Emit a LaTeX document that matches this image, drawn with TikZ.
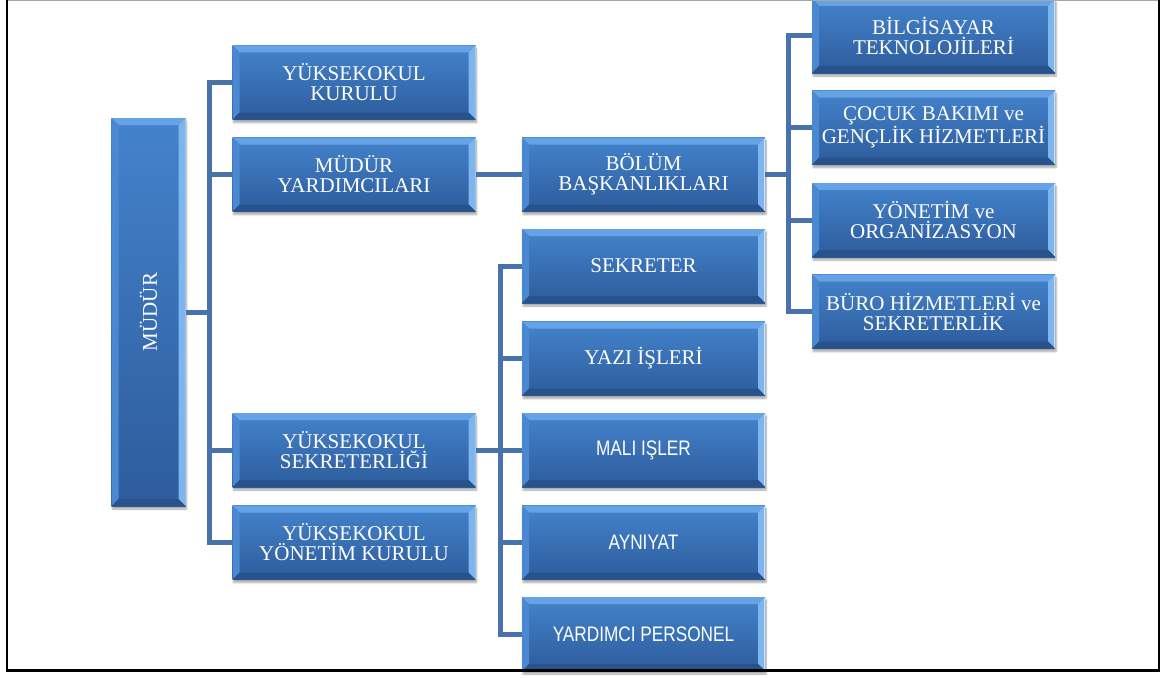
\documentclass[tikz,border=0pt]{standalone}
\usepackage{fontspec}
\setmainfont{Liberation Serif}
\newfontfamily\narrowsans[FakeStretch=0.82]{Liberation Sans}
\usetikzlibrary{shadows.blur}
\definecolor{boxtop}{HTML}{4483CC}
\definecolor{boxbot}{HTML}{2D5C9C}
\definecolor{bevtop}{HTML}{65A2E6}
\definecolor{bevleft}{HTML}{4A88D1}
\definecolor{bevright}{HTML}{7DB6EE}
\definecolor{bevbot}{HTML}{28528C}
\definecolor{conn}{HTML}{4873AA}
\tikzset{
  x=1pt, y=-1pt,
  orgbox/.style={rectangle, inner sep=0pt, minimum width=243pt, minimum height=74pt,
    text=white, align=center, font=\fontsize{21}{20}\selectfont, fill=boxtop,
    blur shadow={shadow xshift=1pt, shadow yshift=-3pt, shadow blur steps=6, shadow opacity=35},
    path picture={
      \shade[top color=boxtop, bottom color=boxbot]
        (path picture bounding box.south west) rectangle (path picture bounding box.north east);
      \fill[bevtop] (path picture bounding box.north west) -- (path picture bounding box.north east)
        -- ([shift={(-7pt,-7pt)}]path picture bounding box.north east)
        -- ([shift={(7pt,-7pt)}]path picture bounding box.north west) -- cycle;
      \fill[bevleft] (path picture bounding box.north west) -- (path picture bounding box.south west)
        -- ([shift={(7pt,7pt)}]path picture bounding box.south west)
        -- ([shift={(7pt,-7pt)}]path picture bounding box.north west) -- cycle;
      \fill[bevright] (path picture bounding box.north east) -- (path picture bounding box.south east)
        -- ([shift={(-7pt,7pt)}]path picture bounding box.south east)
        -- ([shift={(-7pt,-7pt)}]path picture bounding box.north east) -- cycle;
      \fill[bevbot] (path picture bounding box.south west) -- (path picture bounding box.south east)
        -- ([shift={(-7pt,7pt)}]path picture bounding box.south east)
        -- ([shift={(7pt,7pt)}]path picture bounding box.south west) -- cycle;
      \draw[white, opacity=0.6, line width=1pt] ([shift={(-0.5pt,-1pt)}]path picture bounding box.north east) -- ([shift={(-0.5pt,1pt)}]path picture bounding box.south east);
    }},
  sansbox/.style={orgbox, font=\narrowsans\fontsize{21}{20}\selectfont},
  tallbox/.style={orgbox, minimum width=74pt, minimum height=388pt, top color=boxtop, bottom color=boxtop!85!black},
  link/.style={conn, line width=5pt, line join=miter},
}
\begin{document}
\begin{tikzpicture}
\useasboundingbox (0,0) rectangle (1161,677);
% connector junctions
\coordinate (b1) at (209,312);
\coordinate (b3) at (500,450);
\coordinate (b4) at (788,174.5);
% boxes
\node[tallbox] (mudur) at (148.5,312) {\rotatebox{90}{MÜDÜR}};
\node[orgbox] (ykk) at (354,82.5) {YÜKSEKOKUL\\KURULU};
\node[orgbox] (my) at (354,174.5) {MÜDÜR\\YARDIMCILARI};
\node[orgbox] (ys) at (354,450) {YÜKSEKOKUL\\SEKRETERLİĞİ};
\node[orgbox] (yyk) at (354,542.5) {YÜKSEKOKUL\\YÖNETİM KURULU};
\node[orgbox] (bb) at (643.5,174.5) {BÖLÜM\\BAŞKANLIKLARI};
\node[orgbox] (sek) at (643.5,266) {SEKRETER};
\node[orgbox] (yazi) at (643.5,358.5) {YAZI İŞLERİ};
\node[sansbox] (mali) at (643.5,450) {MALI IŞLER};
\node[sansbox] (ayn) at (643.5,542.5) {AYNIYAT};
\node[sansbox] (yp) at (643.5,634) {YARDIMCI PERSONEL};
\node[orgbox] (bil) at (933.5,36) {BİLGİSAYAR\\TEKNOLOJİLERİ};
\node[orgbox] (coc) at (933.5,127.5) {ÇOCUK BAKIMI ve\\GENÇLİK HİZMETLERİ};
\node[orgbox] (yon) at (933.5,220) {YÖNETİM ve\\ORGANİZASYON};
\node[orgbox] (bur) at (933.5,311.5) {BÜRO HİZMETLERİ ve\\SEKRETERLİK};
% connectors
\draw[link] (mudur.east) -- (b1);
\draw[link] (b1) |- (ykk.west);
\draw[link] (b1) |- (my.west);
\draw[link] (b1) |- (ys.west);
\draw[link] (b1) |- (yyk.west);
\draw[link] (my.east) -- (bb.west);
\draw[link] (bb.east) -- (b4);
\draw[link] (b4) |- (bil.west);
\draw[link] (b4) |- (coc.west);
\draw[link] (b4) |- (yon.west);
\draw[link] (b4) |- (bur.west);
\draw[link] (ys.east) -- (b3);
\draw[link] (b3) |- (sek.west);
\draw[link] (b3) |- (yazi.west);
\draw[link] (b3) -- (mali.west);
\draw[link] (b3) |- (ayn.west);
\draw[link] (b3) |- (yp.west);
% frame
\draw[black!35, line width=1.2pt] (7,0.6) -- (1159,0.6);
\draw[black, line width=2.2pt] (7,0) -- (7,670.5) -- (1159,670.5) -- (1159,0);
\end{tikzpicture}
\end{document}
